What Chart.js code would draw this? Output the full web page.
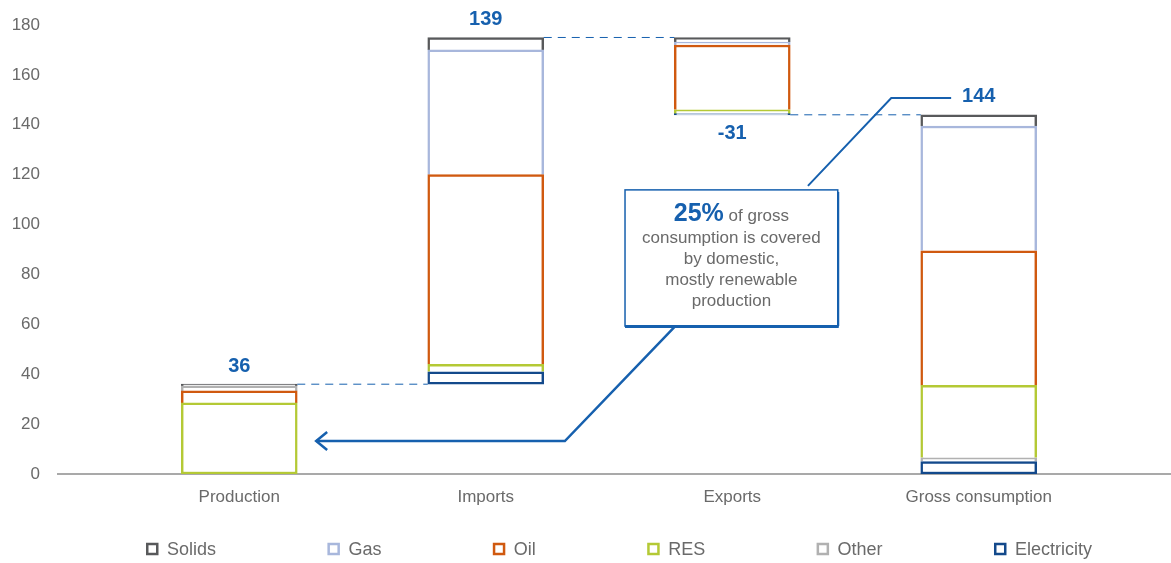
<!DOCTYPE html>
<html lang="en">
<head>
<meta charset="UTF-8">
<title>Energy balance</title>
<script src="https://cdn.jsdelivr.net/npm/chart.js"></script>
<style>
  html, body { margin: 0; padding: 0; background: #fff; }
  .quadro { width: 1171px; height: 563px; }
</style>
</head>
<body>
<div class="quadro"><canvas id="balanco"></canvas></div>
<script>
const categorias = ['Production', 'Imports', 'Exports', 'Gross consumption'];

// invisible offset so imports and exports float
const base = [0, 36, 144, 0];

// stack segments, bottom to top
const electricity = [null, 5, 0.5, 5];
const otherLow = [null, null, null, 1.5];
const res = [28.5, 3, 1.5, 29];
const oil = [4.8, 76, 26, 54];
const otherHigh = [2, null, null, null]; // other sits above oil in production
const gas = [null, 50, 1.2, 50];
const solids = [0.7, 5, 1.8, 4.5];

const sinal = [1, 1, -1, 1];
const yTicks = [0, 20, 40, 60, 80, 100, 120, 140, 160, 180];

const cores = {
    Solids: '#58595b',
    Gas: '#a8b7dc',
    Oil: '#d0590f',
    RES: '#b4c935',
    Other: '#b1b1b1',
    Electricity: '#13498b'
};
const azul = '#1660ae';
const cinza = '#6a6a6a';
const fonte = '"Liberation Sans", Arial, sans-serif';

const series = [
    ['Electricity', electricity],
    ['Other', otherLow],
    ['RES', res],
    ['Oil', oil],
    ['Other', otherHigh],
    ['Gas', gas],
    ['Solids', solids]
];
const legenda = ['Solids', 'Gas', 'Oil', 'RES', 'Other', 'Electricity'];

const totais = categorias.map((c, i) => series.reduce((s, d) => s + (d[1][i] || 0), 0));

// a segment keeps its bottom border only when nothing is below it
function maisBaixo(ctx) {
    for (let k = 1; k < ctx.datasetIndex; k++) {
        if (ctx.chart.data.datasets[k].data[ctx.dataIndex]) return false;
    }
    return true;
}

const datasets = [{
    label: 'base',
    data: base,
    backgroundColor: 'rgba(0,0,0,0)',
    borderWidth: 0
}].concat(series.map(([nome, valores]) => ({
    label: nome,
    data: valores,
    backgroundColor: '#ffffff',
    borderColor: cores[nome],
    borderWidth: 2.5,
    borderSkipped: ctx => maisBaixo(ctx) ? false : 'start'
})));

function seta(ctx, pts) {
    ctx.beginPath();
    ctx.moveTo(pts[0][0], pts[0][1]);
    pts.slice(1).forEach(p => ctx.lineTo(p[0], p[1]));
    ctx.stroke();
}

const notas = {
    id: 'notas',
    beforeDatasetsDraw(chart) {
        const { ctx, scales: { y } } = chart;
        ctx.save();
        ctx.strokeStyle = '#8c8c8c';
        ctx.lineWidth = 1.5;
        ctx.beginPath();
        ctx.moveTo(57, y.getPixelForValue(0));
        ctx.lineTo(chart.width, y.getPixelForValue(0));
        ctx.stroke();
        ctx.restore();
    },
    afterDatasetsDraw(chart) {
        const { ctx, scales: { x, y } } = chart;
        const barras = chart.getDatasetMeta(0).data;
        const passo = x.getPixelForValue(1) - x.getPixelForValue(0);
        const cx = f => x.getPixelForValue(0) + f * passo;
        ctx.save();

        // dashed connectors between bars
        const niveis = [base[1], base[1] + totais[1], base[2]];
        ctx.strokeStyle = azul;
        ctx.lineWidth = 1;
        ctx.setLineDash([8, 6]);
        niveis.forEach((v, i) => {
            const yy = y.getPixelForValue(v);
            ctx.beginPath();
            ctx.moveTo(barras[i].x + barras[i].width / 2, yy);
            ctx.lineTo(barras[i + 1].x - barras[i + 1].width / 2, yy);
            ctx.stroke();
        });
        ctx.setLineDash([]);

        // totals
        ctx.fillStyle = azul;
        ctx.font = 'bold 20px ' + fonte;
        ctx.textAlign = 'center';
        ctx.textBaseline = 'middle';
        categorias.forEach((c, i) => {
            const txt = String(Math.round(totais[i] * sinal[i]));
            const yy = sinal[i] > 0
                ? y.getPixelForValue(base[i] + totais[i]) - 18
                : y.getPixelForValue(base[i]) + 19;
            ctx.fillText(txt, barras[i].x, yy);
        });

        // callout box
        const bx0 = cx(1.565), bx1 = cx(2.428);
        const by0 = y.getPixelForValue(113.9), by1 = y.getPixelForValue(59.3);
        ctx.fillStyle = '#ffffff';
        ctx.fillRect(bx0, by0, bx1 - bx0, by1 - by0);
        ctx.strokeStyle = azul;
        ctx.lineWidth = 1.5;
        ctx.strokeRect(bx0, by0, bx1 - bx0, by1 - by0);
        ctx.lineWidth = 3;
        seta(ctx, [[bx0, by1 + 0.5], [bx1 + 1, by1 + 0.5]]);
        ctx.lineWidth = 2;
        seta(ctx, [[bx1 + 0.5, by0 + 2], [bx1 + 0.5, by1]]);

        const meio = (bx0 + bx1) / 2;
        ctx.font = 'bold 25px ' + fonte;
        const w1 = ctx.measureText('25%').width;
        ctx.font = '17px ' + fonte;
        const w2 = ctx.measureText(' of gross').width;
        const x0 = meio - (w1 + w2) / 2;
        ctx.textAlign = 'left';
        ctx.font = 'bold 25px ' + fonte;
        ctx.fillStyle = azul;
        ctx.fillText('25%', x0, by0 + 24);
        ctx.font = '17px ' + fonte;
        ctx.fillStyle = cinza;
        ctx.fillText(' of gross', x0 + w1, by0 + 26);
        ctx.textAlign = 'center';
        ['consumption is covered', 'by domestic,', 'mostly renewable', 'production']
            .forEach((l, k) => ctx.fillText(l, meio, by0 + 48 + k * 21.3));

        // pointers
        ctx.strokeStyle = azul;
        ctx.lineWidth = 2;
        seta(ctx, [[cx(2.888), y.getPixelForValue(150.7)], [cx(2.645), y.getPixelForValue(150.7)], [cx(2.307), y.getPixelForValue(115.5)]]);
        ctx.lineWidth = 2.5;
        const ya = y.getPixelForValue(13.2), xa = cx(0.312);
        seta(ctx, [[cx(1.767), y.getPixelForValue(59.1)], [cx(1.321), ya], [xa, ya]]);
        seta(ctx, [[xa + 11, ya - 9], [xa, ya], [xa + 11, ya + 9]]);
        ctx.restore();
    },
    afterDraw(chart) {
        const { ctx } = chart;
        ctx.save();
        ctx.font = '18px ' + fonte;
        const larg = legenda.map(n => 21 + ctx.measureText(n).width);
        const espaco = (946 - larg.reduce((a, b) => a + b, 0)) / (legenda.length - 1);
        let px = 619 - 946 / 2;
        const py = 549;
        ctx.textBaseline = 'middle';
        legenda.forEach((n, k) => {
            ctx.strokeStyle = cores[n];
            ctx.lineWidth = 2.5;
            ctx.strokeRect(px + 1.25, py - 5, 10, 10);
            ctx.fillStyle = cinza;
            ctx.fillText(n, px + 21, py + 1);
            px += larg[k] + espaco;
        });
        ctx.restore();
    }
};

new Chart(document.getElementById('balanco'), {
    type: 'bar',
    data: { labels: categorias, datasets: datasets },
    options: {
        responsive: true,
        maintainAspectRatio: false,
        animation: false,
        barThickness: 116,
        layout: { padding: { top: 25, right: 69, left: 0, bottom: 0 } },
        plugins: {
            legend: { display: false },
            tooltip: { enabled: false }
        },
        scales: {
            x: {
                stacked: true,
                grid: { display: false, drawTicks: false },
                border: { display: false },
                ticks: { color: cinza, font: { family: fonte, size: 17 }, padding: 13 },
                afterFit: s => { s.height = 89; }
            },
            y: {
                stacked: true,
                min: 0,
                max: 180,
                grid: { display: false, drawTicks: false },
                border: { display: false },
                afterBuildTicks: s => { s.ticks = yTicks.map(v => ({ value: v })); },
                ticks: { color: cinza, font: { family: fonte, size: 17 }, padding: 76 },
                afterFit: s => {
                    s.width = 116;
                    s.paddingTop = 0;
                    s.paddingBottom = 0;
                }
            }
        }
    },
    plugins: [notas]
});
</script>
</body>
</html>
